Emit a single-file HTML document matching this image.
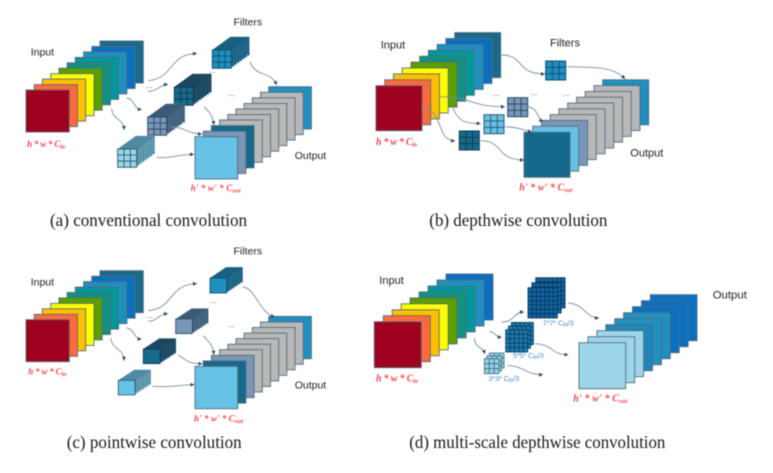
<!DOCTYPE html>
<html><head><meta charset="utf-8"><style>
html,body{margin:0;padding:0;background:#fff;width:773px;height:473px;overflow:hidden}
svg{display:block;filter:blur(.45px)}
.l{font:10.5px "Liberation Sans",sans-serif;fill:#222}
.c{font:17.5px "Liberation Serif",serif;fill:#1a1a1a}
.r{font:italic bold 9px "Liberation Serif",serif;fill:#ff4450}
.b{font:7.5px "Liberation Sans",sans-serif;fill:#4a90d0}
.d{font:8px "Liberation Sans",sans-serif;fill:#556}
.s{font-size:6px}
.st rect{stroke:#566b7c;stroke-width:.9}
.cn path{fill:none;stroke:#7a8ea0;stroke-width:.9;marker-end:url(#ah)}
</style></head><body>
<svg width="773" height="473" viewBox="0 0 773 473" xmlns="http://www.w3.org/2000/svg">
<defs>
<marker id="ah" markerUnits="userSpaceOnUse" markerWidth="5" markerHeight="5" refX="4" refY="2" orient="auto"><path d="M0 0L4 2L0 4z" fill="#2f4a66" stroke="none"/></marker>
<g id="ia" class="st">
<rect x="100" y="41" width="43.3" height="42" fill="#1a6a8a"/><rect x="91.8" y="46.5" width="43.3" height="42" fill="#0b6fc0"/><rect x="83.6" y="51.9" width="43.3" height="42" fill="#1f8fc0"/><rect x="75.3" y="57.4" width="43.3" height="42" fill="#00979c"/><rect x="67.1" y="62.8" width="43.3" height="42" fill="#129080"/><rect x="58.9" y="68.2" width="43.3" height="42" fill="#5a9e00"/><rect x="50.7" y="73.7" width="43.3" height="42" fill="#ffff00"/><rect x="42.4" y="79.1" width="43.3" height="42" fill="#ffc000"/><rect x="34.2" y="84.6" width="43.3" height="42" fill="#ff6a3a"/><rect x="26" y="90" width="43.3" height="42" fill="#a00020"/>
</g>
<g id="oa" class="st">
<rect x="268.7" y="86.7" width="42.7" height="42.3" fill="#1f8fc0"/><rect x="260.5" y="92.3" width="42.7" height="42.3" fill="#b8b8b8"/><rect x="252.3" y="97.8" width="42.7" height="42.3" fill="#b8b8b8"/><rect x="244.1" y="103.4" width="42.7" height="42.3" fill="#b8b8b8"/><rect x="236" y="108.9" width="42.7" height="42.3" fill="#b8b8b8"/><rect x="227.8" y="114.5" width="42.7" height="42.3" fill="#b8b8b8"/><rect x="219.6" y="120" width="42.7" height="42.3" fill="#b8b8b8"/>
</g>
<g id="sl" stroke-width=".5">
<rect x="18" y="-13" width="19" height="18.3"/><rect x="15.4" y="-11.1" width="19" height="18.3"/><rect x="12.9" y="-9.3" width="19" height="18.3"/><rect x="10.3" y="-7.4" width="19" height="18.3"/><rect x="7.7" y="-5.6" width="19" height="18.3"/><rect x="5.1" y="-3.7" width="19" height="18.3"/><rect x="2.6" y="-1.9" width="19" height="18.3"/>
<path stroke="none" d="M0 0L18 -13H37L19 0Z"/>
</g>
<g id="g3"><rect width="20" height="19"/><path fill="none" d="M6.67 0V19M13.33 0V19M0 6.33H20M0 12.67H20"/></g>
<g id="g7"><rect width="29.4" height="30.3"/><path fill="none" d="M4.2 0V30.3M8.4 0V30.3M12.6 0V30.3M16.8 0V30.3M21 0V30.3M25.2 0V30.3M0 4.33H29.4M0 8.66H29.4M0 13H29.4M0 17.3H29.4M0 21.6H29.4M0 26H29.4"/></g>
<g id="g5"><rect width="22" height="22.3"/><path fill="none" d="M4.4 0V22.3M8.8 0V22.3M13.2 0V22.3M17.6 0V22.3M0 4.46H22M0 8.92H22M0 13.4H22M0 17.8H22"/></g>
</defs>
<rect width="773" height="473" fill="#fff"/>

<!-- (a) -->
<use href="#ia"/>
<use href="#oa"/>
<g class="st"><rect x="211.4" y="125.6" width="42.7" height="42.3" fill="#156a8c"/><rect x="203.2" y="131.2" width="42.7" height="42.3" fill="#7a96b8"/><rect x="195" y="136.7" width="42.7" height="42.3" fill="#66c2e6"/></g>
<g transform="translate(212.3 50)"><use href="#sl" fill="#1a5f80" stroke="#3f86a6"/><use href="#g3" transform="scale(.95 .96)" fill="#1f8fc0" stroke="#12506e"/></g>
<g transform="translate(174.3 87)"><use href="#sl" fill="#1a4660" stroke="#2f6580"/><use href="#g3" transform="scale(.95 .96)" fill="#156a8c" stroke="#0f3a50"/></g>
<g transform="translate(147.7 117)"><use href="#sl" fill="#3a5a78" stroke="#6f8cab"/><use href="#g3" transform="scale(.95 .96)" fill="#7a96b8" stroke="#2f4a66"/></g>
<g transform="translate(117.7 149)"><use href="#sl" fill="#4f8aa2" stroke="#9dd0e2"/><use href="#g3" transform="scale(.95 .96)" fill="#9dd6ea" stroke="#2f5a70"/></g>
<g class="cn">
<path d="M148.3 80.7C175 78 168 54 197 53.5"/><path d="M148.3 91.5C158 91 160 84.5 168 84.5"/><path d="M126.7 98C135 99 133 109 141.7 109.5"/><path d="M111.7 108.5C112 120 124 118 124 130"/><path d="M250 61.7C256 78 270 70 276.7 85"/><path d="M204 106.7C208 112 212 112 214 125"/><path d="M170 126.7C185 127 188 134 202 134"/><path d="M156.7 157.3C170 159 180 154 194 154.5"/>
</g>
<text class="d" x="146" y="88">...</text><text class="d" x="209" y="73">...</text><text class="d" x="228" y="96">...</text>
<text class="l" x="30.7" y="55.7">Input</text><text class="l" x="233.5" y="25.3">Filters</text><text class="l" x="294.7" y="159">Output</text>
<text class="r" x="27" y="147" textLength="38">h * w * C<tspan class="s" dy="1.5">in</tspan></text>
<text class="r" x="190.7" y="191" textLength="50">h' * w'  * C<tspan class="s" dy="1.5">out</tspan></text>
<text class="c" x="50" y="226" textLength="197" lengthAdjust="spacingAndGlyphs">(a) conventional convolution</text>

<!-- (b) -->
<g class="st">
<rect x="454.7" y="32.6" width="46" height="45" fill="#1a6a8a"/><rect x="445.9" y="38.5" width="46" height="45" fill="#0b6fc0"/><rect x="437.2" y="44.4" width="46" height="45" fill="#1f8fc0"/><rect x="428.4" y="50.3" width="46" height="45" fill="#00979c"/><rect x="419.7" y="56.2" width="46" height="45" fill="#129080"/><rect x="411" y="62.1" width="46" height="45" fill="#5a9e00"/><rect x="402.2" y="68" width="46" height="45" fill="#ffff00"/><rect x="393.5" y="73.9" width="46" height="45" fill="#ffc000"/><rect x="384.7" y="79.8" width="46" height="45" fill="#ff6a3a"/><rect x="376" y="85.7" width="46" height="45" fill="#a00020"/>
<rect x="602.7" y="79.8" width="46" height="45" fill="#1f8fc0"/><rect x="594" y="85.6" width="46" height="45" fill="#b8b8b8"/><rect x="585.2" y="91.4" width="46" height="45" fill="#b8b8b8"/><rect x="576.5" y="97.2" width="46" height="45" fill="#b8b8b8"/><rect x="567.7" y="103" width="46" height="45" fill="#b8b8b8"/><rect x="559" y="108.8" width="46" height="45" fill="#b8b8b8"/><rect x="550.2" y="114.6" width="46" height="45" fill="#b8b8b8"/><rect x="541.5" y="120.4" width="46" height="45" fill="#7a96b8"/><rect x="532.7" y="126.2" width="46" height="45" fill="#66c2e6"/><rect x="524" y="132.3" width="46" height="45" fill="#156a8c"/>
</g>
<use href="#g3" transform="translate(545.7 61)" fill="#1f8fc0" stroke="#12506e"/>
<use href="#g3" transform="translate(507.7 97.7)" fill="#7a96b8" stroke="#2f4a66"/>
<use href="#g3" transform="translate(484 114.7)" fill="#66c2e6" stroke="#2f5a70"/>
<use href="#g3" transform="translate(459.3 131)" fill="#156a8c" stroke="#0f3a50"/>
<g class="cn">
<path d="M501.7 55C525 55 515 74 545 74"/><path d="M566.7 66.7C600 67 615 68 625 79"/><path d="M440 96.7C470 96 470 107 505 106.7"/><path d="M453 108C460 125 470 123 480.7 123.5"/><path d="M421.7 108C445 110 435 140 455 141"/><path d="M528.3 107C538 108 537 118 543 122"/><path d="M505 126.7C520 127 525 131 532 131.7"/><path d="M480.7 140.7C505 141 495 160 524 160"/>
</g>
<text class="d" x="493" y="96">...</text><text class="d" x="531" y="95">...</text><text class="d" x="563" y="96">...</text>
<text class="l" style="font-size:11px" x="380.7" y="48.3">Input</text><text class="l" style="font-size:11px" x="550" y="46.7">Filters</text><text class="l" style="font-size:11px" x="630.3" y="156.7">Output</text>
<text class="r" style="font-size:10px" x="376" y="145" textLength="41">h * w * C<tspan class="s" dy="1.5">in</tspan></text>
<text class="r" style="font-size:10px" x="519.3" y="190.7" textLength="53">h' * w'  * C<tspan class="s" dy="1.5">out</tspan></text>
<text class="c" x="429.3" y="226" textLength="178" lengthAdjust="spacingAndGlyphs">(b) depthwise convolution</text>

<!-- (c) -->
<use href="#ia" y="229.7"/>
<use href="#oa" y="229.7"/>
<g class="st"><rect x="211.4" y="355.3" width="42.7" height="42.3" fill="#7a96b8"/><rect x="203.2" y="360.9" width="42.7" height="42.3" fill="#156a8c"/><rect x="195" y="366.4" width="42.7" height="42.3" fill="#66c2e6"/></g>
<g transform="translate(210 278) scale(.88 .82)"><use href="#sl" fill="#1a5f80" stroke="#3f86a6"/><rect width="19" height="18.3" fill="#1f8fc0" stroke="#12506e"/></g>
<g transform="translate(175.7 319) scale(.88 .8)"><use href="#sl" fill="#3a5a78" stroke="#6f8cab"/><rect width="19" height="18.3" fill="#7a96b8" stroke="#2f4a66"/></g>
<g transform="translate(143.3 349) scale(.88 .8)"><use href="#sl" fill="#1a4660" stroke="#2f6580"/><rect width="19" height="18.3" fill="#156a8c" stroke="#0f3a50"/></g>
<g transform="translate(118.3 380.3) scale(.88 .8)"><use href="#sl" fill="#4f8aa2" stroke="#9dd0e2"/><rect width="19" height="18.3" fill="#66c2e6" stroke="#2f5a70"/></g>
<g class="cn">
<path d="M148.3 310.7C175 308 168 284 197 283.7"/><path d="M148.3 321.3C158 321 158 314 168 313.7"/><path d="M126.7 328C135 329 133 339 141.7 339"/><path d="M110.7 338C112 350 124 348 124 360.7"/><path d="M242.7 287C256 288 258 312 275 317"/><path d="M203.3 335.7C208 342 212 342 214 354.7"/><path d="M178 354.7C188 362 190 363.7 202.3 363.7"/><path d="M152.3 386.3C170 388 180 384.7 194.3 384.7"/>
</g>
<text class="d" x="146" y="318">...</text><text class="d" x="210" y="303">...</text><text class="d" x="228" y="327">...</text>
<text class="l" x="30.7" y="285.3">Input</text><text class="l" x="233.5" y="254.7">Filters</text><text class="l" x="294.7" y="388.7">Output</text>
<text class="r" x="28.3" y="374.7" textLength="38">h * w * C<tspan class="s" dy="1.5">in</tspan></text>
<text class="r" x="194" y="421.3" textLength="49">h' * w'  * C<tspan class="s" dy="1.5">out</tspan></text>
<text class="c" x="66.7" y="448" textLength="175" lengthAdjust="spacingAndGlyphs">(c) pointwise convolution</text>

<!-- (d) -->
<g class="st">
<rect x="446" y="274" width="47" height="46" fill="#0b6fc0"/><rect x="437" y="280" width="47" height="46" fill="#1f8fc0"/><rect x="428.1" y="285.9" width="47" height="46" fill="#00979c"/><rect x="419.1" y="291.9" width="47" height="46" fill="#129080"/><rect x="410.1" y="297.9" width="47" height="46" fill="#5a9e00"/><rect x="401.2" y="303.8" width="47" height="46" fill="#ffff00"/><rect x="392.2" y="309.8" width="47" height="46" fill="#ffc000"/><rect x="383.3" y="315.7" width="47" height="46" fill="#ff6a3a"/><rect x="374.3" y="321.7" width="47" height="46" fill="#a00020"/>
<rect x="650.3" y="294.7" width="46.7" height="46" fill="#0b6fc0"/><rect x="641.4" y="300.7" width="46.7" height="46" fill="#0b6fc0"/><rect x="632.5" y="306.7" width="46.7" height="46" fill="#0b6fc0"/><rect x="623.6" y="312.7" width="46.7" height="46" fill="#2090c0"/><rect x="614.7" y="318.7" width="46.7" height="46" fill="#2090c0"/><rect x="605.8" y="324.7" width="46.7" height="46" fill="#1f86b8"/><rect x="596.9" y="330.7" width="46.7" height="46" fill="#9dd6ea"/><rect x="588" y="336.7" width="46.7" height="46" fill="#9dd6ea"/><rect x="579" y="342.7" width="46.7" height="46" fill="#9dd6ea"/>
</g>
<g fill="#0f66a8" stroke="#0b2f4a" stroke-width=".8">
<use href="#g7" transform="translate(535.7 277.7)"/><use href="#g7" transform="translate(531.8 282.7)"/><use href="#g7" transform="translate(528 287.7)"/>
</g>
<g fill="#1a7cb0" stroke="#0b3550" stroke-width=".8">
<use href="#g5" transform="translate(511.4 322.4)"/><use href="#g5" transform="translate(508.5 326)"/><use href="#g5" transform="translate(505.7 329.7)"/>
</g>
<g fill="#8fd0e6" stroke="#2a4a5c" stroke-width=".8">
<use href="#g3" transform="translate(489.3 353) scale(.74 .79)"/><use href="#g3" transform="translate(486.8 355.9) scale(.74 .79)"/><use href="#g3" transform="translate(484.3 358.7) scale(.74 .79)"/>
</g>
<g class="cn">
<path d="M501.7 322C515 322 513 312 524 312"/><path d="M489.3 331.3C495 332 495 337 501.7 337.3"/><path d="M474.3 338C476 350 482 345 485 354"/><path d="M568.3 303C585 304 585 318 599 318"/><path d="M535 343.7C555 345 550 354.7 568.3 354.7"/><path d="M507.3 365.7C525 366 525 374.7 543 374.7"/>
</g>
<text class="b" x="542.7" y="325.7" textLength="31">7*7* C<tspan class="s" dy="1">in</tspan><tspan dy="-1">/3</tspan></text>
<text class="b" x="512.7" y="358" textLength="31">5*5* C<tspan class="s" dy="1">in</tspan><tspan dy="-1">/3</tspan></text>
<text class="b" x="488.3" y="381" textLength="31">3*3* C<tspan class="s" dy="1">in</tspan><tspan dy="-1">/3</tspan></text>
<text class="l" style="font-size:11px" x="379.3" y="284">Input</text><text class="l" style="font-size:11.4px" x="712.7" y="298.7">Output</text>
<text class="r" style="font-size:10px" x="376" y="381.3" textLength="42">h * w * C<tspan class="s" dy="1.5">in</tspan></text>
<text class="r" style="font-size:10px" x="573.3" y="401.3" textLength="54">h' * w'  * C<tspan class="s" dy="1.5">out</tspan></text>
<text class="c" x="409.3" y="448" textLength="256" lengthAdjust="spacingAndGlyphs">(d) multi-scale depthwise convolution</text>
</svg>
</body></html>
